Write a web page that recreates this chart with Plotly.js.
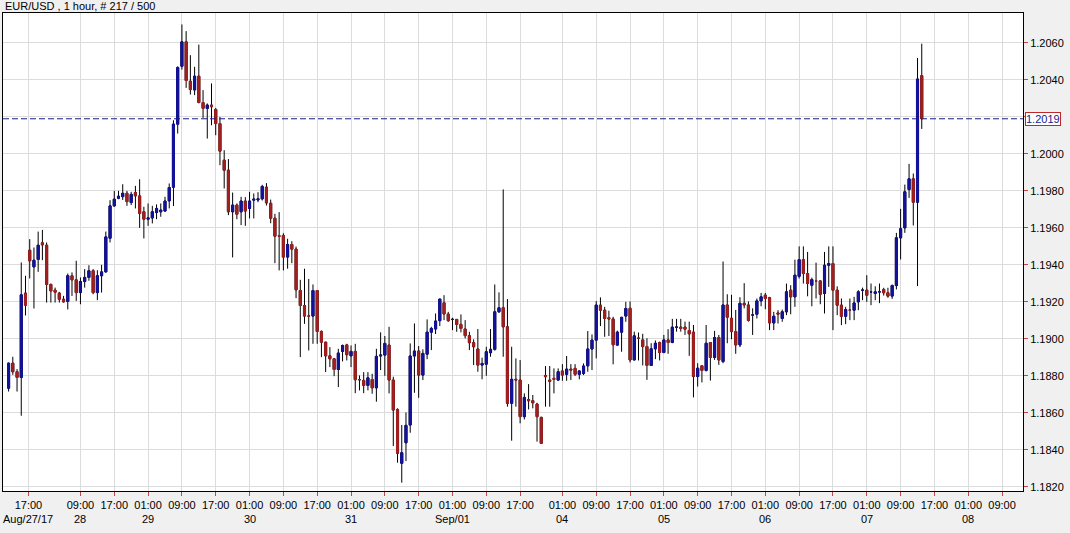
<!DOCTYPE html>
<html><head><meta charset="utf-8">
<script src="https://cdn.plot.ly/plotly-3.0.1.min.js"></script>
<style>html,body{margin:0;padding:0;background:#f0f0f0;}#chart{width:1070px;height:533px;}</style>
</head><body><div id="chart"></div>
<script>
const symbolTitle = "EUR/USD , 1 hour, # 217 / 500";
const lastPrice = 1.2019;
const lastPriceText = "1.2019";

const opens = [
1.18733,1.18868,1.18822,1.18791,1.19247,1.19479,1.19389,1.19429,1.19519,1.19506,
1.19294,1.19263,1.19247,1.19214,1.19202,1.19341,1.19319,1.19250,1.19310,1.19332,
1.19368,1.19250,1.19341,1.19362,1.19544,1.19719,1.19760,1.19769,1.19787,1.19737,
1.19791,1.19773,1.19687,1.19647,1.19654,1.19683,1.19687,1.19691,1.19746,1.19820,
1.20161,1.20474,1.20606,1.20393,1.20346,1.20420,1.20278,1.20246,1.20264,1.20240,
1.20164,1.19966,1.19912,1.19687,1.19723,1.19687,1.19745,1.19705,1.19750,1.19751,
1.19757,1.19820,1.19733,1.19652,1.19557,1.19559,1.19442,1.19510,1.19485,1.19261,
1.19180,1.19123,1.19123,1.19261,1.19040,1.18982,1.18908,1.18892,1.18834,1.18932,
1.18967,1.18908,1.18932,1.18779,1.18775,1.18748,1.18780,1.18735,1.18907,1.18912,
1.18966,1.18777,1.18618,1.18327,1.18438,1.18534,1.18907,1.18934,1.18804,1.18917,
1.19036,1.19053,1.19098,1.19195,1.19134,1.19105,1.19105,1.19078,1.19053,1.19017,
1.18979,1.18945,1.18858,1.18863,1.18925,1.18943,1.19146,1.19168,1.19065,1.18651,
1.18781,1.18777,1.18579,1.18672,1.18665,1.18647,1.18575,1.18802,1.18777,1.18786,
1.18777,1.18826,1.18808,1.18836,1.18840,1.18808,1.18813,1.18854,1.18945,1.18993,
1.19182,1.19155,1.19114,1.19107,1.18966,1.19036,1.19123,1.19165,1.18886,1.19003,
1.18994,1.18958,1.18856,1.18946,1.18980,1.18926,1.18994,1.18980,1.19063,1.19063,
1.19063,1.19045,1.19036,1.18796,1.18854,1.18829,1.18980,1.18899,1.19007,1.18877,
1.19183,1.19111,1.19039,1.18967,1.19192,1.19183,1.19129,1.19133,1.19205,1.19236,
1.19223,1.19086,1.19140,1.19110,1.19146,1.19263,1.19227,1.19338,1.19428,1.19353,
1.19290,1.19313,1.19313,1.19245,1.19398,1.19407,1.19263,1.19182,1.19122,1.19155,
1.19155,1.19200,1.19263,1.19263,1.19254,1.19245,1.19254,1.19267,1.19249,1.19231,
1.19288,1.19546,1.19600,1.19807,1.19865,1.19739,1.20423];
const highs = [
1.18872,1.18903,1.18836,1.19413,1.19341,1.19539,1.19494,1.19580,1.19589,1.19521,
1.19299,1.19277,1.19254,1.19232,1.19353,1.19359,1.19422,1.19332,1.19377,1.19398,
1.19377,1.19371,1.19400,1.19580,1.19750,1.19800,1.19800,1.19836,1.19800,1.19795,
1.19827,1.19863,1.19714,1.19732,1.19719,1.19727,1.19732,1.19768,1.19840,1.20182,
1.20474,1.20700,1.20664,1.20534,1.20471,1.20591,1.20345,1.20273,1.20381,1.20249,
1.20200,1.20020,1.19972,1.19791,1.19732,1.19768,1.19766,1.19795,1.19786,1.19793,
1.19833,1.19842,1.19753,1.19676,1.19685,1.19571,1.19541,1.19528,1.19499,1.19319,
1.19379,1.19324,1.19294,1.19261,1.19045,1.18982,1.18955,1.18897,1.18946,1.18969,
1.18973,1.18964,1.18973,1.18802,1.18820,1.18820,1.18811,1.18946,1.19035,1.19015,
1.19065,1.18795,1.18624,1.18534,1.18602,1.18975,1.19083,1.18961,1.18943,1.19105,
1.19065,1.19137,1.19215,1.19236,1.19146,1.19114,1.19105,1.19132,1.19101,1.19038,
1.18997,1.19053,1.18898,1.18957,1.19053,1.19294,1.19251,1.19808,1.19215,1.18957,
1.18894,1.18885,1.18705,1.18755,1.18696,1.18654,1.18579,1.18853,1.18853,1.18840,
1.18840,1.18863,1.18907,1.18863,1.18863,1.18831,1.18867,1.19042,1.19024,1.19204,
1.19224,1.19173,1.19152,1.19119,1.19044,1.19119,1.19200,1.19202,1.19039,1.19034,
1.19027,1.19003,1.18976,1.18991,1.18985,1.19021,1.19052,1.19108,1.19108,1.19108,
1.19093,1.19093,1.19075,1.18868,1.18854,1.19075,1.18980,1.19043,1.19021,1.19418,
1.19241,1.19238,1.19156,1.19225,1.19301,1.19202,1.19165,1.19218,1.19248,1.19248,
1.19227,1.19146,1.19155,1.19158,1.19299,1.19290,1.19428,1.19500,1.19500,1.19470,
1.19331,1.19412,1.19317,1.19470,1.19500,1.19500,1.19284,1.19218,1.19173,1.19218,
1.19227,1.19263,1.19277,1.19344,1.19299,1.19284,1.19299,1.19276,1.19276,1.19294,
1.19573,1.19703,1.19834,1.19946,1.19894,1.20519,1.20596];
const lows = [
1.18715,1.18805,1.18715,1.18584,1.19126,1.19326,1.19164,1.19362,1.19425,1.19196,
1.19196,1.19196,1.19196,1.19196,1.19159,1.19232,1.19205,1.19187,1.19277,1.19314,
1.19241,1.19209,1.19250,1.19359,1.19521,1.19714,1.19755,1.19751,1.19719,1.19723,
1.19705,1.19600,1.19543,1.19611,1.19624,1.19647,1.19660,1.19687,1.19705,1.19718,
1.20110,1.20456,1.20357,1.20321,1.20318,1.20273,1.20195,1.20083,1.20155,1.20101,
1.19939,1.19813,1.19669,1.19440,1.19647,1.19615,1.19611,1.19651,1.19651,1.19739,
1.19748,1.19721,1.19625,1.19409,1.19370,1.19370,1.19379,1.19409,1.19220,1.18901,
1.19081,1.18937,1.18973,1.18973,1.18901,1.18820,1.18847,1.18798,1.18739,1.18878,
1.18883,1.18847,1.18706,1.18721,1.18706,1.18721,1.18703,1.18660,1.18831,1.18800,
1.18705,1.18420,1.18330,1.18222,1.18339,1.18492,1.18708,1.18681,1.18777,1.18890,
1.18939,1.19026,1.19069,1.19101,1.19092,1.19047,1.19038,1.19035,1.19002,1.18939,
1.18858,1.18822,1.18781,1.18800,1.18903,1.18936,1.19141,1.18903,1.18633,1.18449,
1.18633,1.18543,1.18564,1.18618,1.18624,1.18444,1.18431,1.18633,1.18633,1.18705,
1.18773,1.18773,1.18773,1.18777,1.18799,1.18781,1.18804,1.18822,1.18831,1.18894,
1.19069,1.19011,1.19015,1.18862,1.18963,1.18930,1.19092,1.18872,1.18883,1.18883,
1.18856,1.18778,1.18854,1.18890,1.18883,1.18922,1.18919,1.18976,1.19039,1.19039,
1.19021,1.18908,1.18683,1.18742,1.18764,1.18823,1.18774,1.18886,1.18859,1.18868,
1.18976,1.18998,1.18919,1.18955,1.19165,1.19093,1.19021,1.19110,1.19176,1.19160,
1.19047,1.19047,1.19083,1.19092,1.19128,1.19133,1.19173,1.19326,1.19299,1.19230,
1.19176,1.19218,1.19187,1.19137,1.19281,1.19047,1.19128,1.19074,1.19079,1.19101,
1.19101,1.19155,1.19209,1.19200,1.19182,1.19209,1.19193,1.19234,1.19222,1.19216,
1.19267,1.19429,1.19573,1.19762,1.19613,1.19285,1.20135];
const closes = [
1.18868,1.18822,1.18791,1.19238,1.19182,1.19422,1.19425,1.19506,1.19508,1.19294,
1.19259,1.19252,1.19214,1.19200,1.19341,1.19319,1.19250,1.19310,1.19332,1.19368,
1.19250,1.19341,1.19362,1.19551,1.19719,1.19755,1.19771,1.19787,1.19742,1.19781,
1.19773,1.19678,1.19647,1.19654,1.19687,1.19705,1.19696,1.19745,1.19818,1.20161,
1.20467,1.20606,1.20397,1.20348,1.20420,1.20278,1.20246,1.20264,1.20255,1.20164,
1.20015,1.19912,1.19687,1.19723,1.19674,1.19745,1.19691,1.19745,1.19755,1.19757,
1.19824,1.19735,1.19652,1.19555,1.19555,1.19442,1.19510,1.19485,1.19265,1.19180,
1.19123,1.19123,1.19261,1.19040,1.18982,1.18908,1.18892,1.18834,1.18923,1.18964,
1.18914,1.18932,1.18779,1.18779,1.18748,1.18789,1.18735,1.18905,1.18912,1.18975,
1.18777,1.18615,1.18381,1.18384,1.18532,1.18907,1.18934,1.18804,1.18921,1.19036,
1.19056,1.19096,1.19215,1.19134,1.19098,1.19105,1.19078,1.19056,1.19017,1.18979,
1.18957,1.18858,1.18867,1.18930,1.18943,1.19146,1.19168,1.19065,1.18651,1.18781,
1.18777,1.18579,1.18683,1.18665,1.18654,1.18579,1.18435,1.18795,1.18770,1.18781,
1.18822,1.18804,1.18836,1.18831,1.18808,1.18826,1.18853,1.18945,1.18993,1.19182,
1.19155,1.19110,1.19108,1.18968,1.19036,1.19116,1.19164,1.18886,1.19016,1.19003,
1.18958,1.18856,1.18946,1.18976,1.18926,1.18994,1.18980,1.19063,1.19063,1.19056,
1.19052,1.19027,1.18796,1.18841,1.18829,1.18976,1.18899,1.19007,1.18886,1.19183,
1.19117,1.19039,1.18967,1.19192,1.19183,1.19099,1.19129,1.19205,1.19227,1.19218,
1.19086,1.19122,1.19133,1.19146,1.19254,1.19227,1.19344,1.19428,1.19353,1.19299,
1.19320,1.19313,1.19241,1.19398,1.19407,1.19263,1.19182,1.19122,1.19158,1.19155,
1.19194,1.19254,1.19263,1.19236,1.19254,1.19254,1.19254,1.19249,1.19231,1.19288,
1.19546,1.19595,1.19795,1.19865,1.19739,1.20405,1.20190];

const timeTickIdx = [4.7,17,25,33,41,49,57,65,73,81,89,97,105,113,121,131,139,147,155,163,171,179,187,195,203,211,219,227,235];
const timeTickText = ["17:00","09:00","17:00","01:00","09:00","17:00","01:00","09:00","17:00","01:00","09:00","17:00","01:00","09:00","17:00","01:00","09:00","17:00","01:00","09:00","17:00","01:00","09:00","17:00","01:00","09:00","17:00","01:00","09:00"];
const dateTickIdx = [4.7,17,33,57,81,105,131,155,179,203,227];
const dateTickText = ["Aug/27/17","28","29","30","31","Sep/01","04","05","06","07","08"];
const priceTickVals = [1.182,1.184,1.186,1.188,1.190,1.192,1.194,1.196,1.198,1.200,1.202,1.204,1.206];
const priceTickText = ["1.1820","1.1840","1.1860","1.1880","1.1900","1.1920","1.1940","1.1960","1.1980","1.2000","","1.2040","1.2060"];

const BLUE = '#12129c', RED = '#a31f1f', WICK = '#000000';
const idx = opens.map((_, i) => i);
const bodyHigh = opens.map((o, i) => Math.max(o, closes[i]));
const bodyLow = opens.map((o, i) => Math.min(o, closes[i]));

const wickTrace = {
  type: 'candlestick', x: idx, open: opens, high: highs, low: lows, close: closes,
  increasing: {line: {color: WICK, width: 1}, fillcolor: WICK},
  decreasing: {line: {color: WICK, width: 1}, fillcolor: WICK},
  whiskerwidth: 0, hoverinfo: 'skip', showlegend: false
};
const bodyTrace = {
  type: 'candlestick', x: idx, open: opens, high: bodyHigh, low: bodyLow, close: closes,
  increasing: {line: {color: BLUE, width: 1}, fillcolor: BLUE},
  decreasing: {line: {color: RED, width: 1}, fillcolor: RED},
  whiskerwidth: 0, hoverinfo: 'skip', showlegend: false
};

const FONT = 'Liberation Sans, Arial, sans-serif';
const annotations = [{
  xref: 'paper', yref: 'paper', x: 0, y: 1, xanchor: 'left', yanchor: 'bottom',
  text: symbolTitle, showarrow: false, font: {family: FONT, size: 11, color: '#000'}, xshift: 0, yshift: -1
}, {
  xref: 'paper', yref: 'y', x: 1, y: lastPrice, xanchor: 'left', yanchor: 'middle', xshift: 2,
  text: lastPriceText, showarrow: false, bgcolor: '#ffffff', bordercolor: '#c02828', borderwidth: 1, borderpad: 0,
  font: {family: FONT, size: 11, color: '#1a1a8a'}
}];
dateTickIdx.forEach((d, i) => annotations.push({
  xref: 'x', yref: 'paper', x: d, y: 0, xanchor: 'center', yanchor: 'top', yshift: -20,
  text: dateTickText[i], showarrow: false, font: {family: FONT, size: 11, color: '#000'}
}));

const layout = {
  width: 1070, height: 533,
  margin: {l: 3, r: 47, t: 13, b: 42, pad: 0},
  paper_bgcolor: '#f0f0f0', plot_bgcolor: '#ffffff',
  font: {family: FONT, size: 11, color: '#000'},
  showlegend: false, boxgap: 0.3, boxgroupgap: 0.3,
  xaxis: {
    type: 'linear', range: [-1.32, 239.95], tickmode: 'array', tickvals: timeTickIdx, ticktext: timeTickText,
    ticks: 'outside', ticklen: 4, tickcolor: '#c04848', tickwidth: 1,
    showgrid: true, gridcolor: '#dcdcdc', gridwidth: 1,
    showline: true, linecolor: '#000', linewidth: 1, mirror: true, zeroline: false,
    rangeslider: {visible: false}, fixedrange: true, tickfont: {family: FONT, size: 11, color: '#000'}
  },
  yaxis: {
    side: 'right', range: [1.18177, 1.20762], tickmode: 'array', tickvals: priceTickVals, ticktext: priceTickText,
    ticks: 'outside', ticklen: 4, tickcolor: '#c04848', tickwidth: 1,
    showgrid: true, gridcolor: '#dcdcdc', gridwidth: 1,
    showline: true, linecolor: '#000', linewidth: 1, mirror: true, zeroline: false,
    fixedrange: true, tickfont: {family: FONT, size: 11, color: '#000'}
  },
  shapes: [{type: 'line', xref: 'paper', x0: 0, x1: 1, yref: 'y', y0: lastPrice, y1: lastPrice,
    line: {color: '#1a1a8a', width: 1, dash: '6px,3px'}}],
  annotations: annotations
};

Plotly.newPlot('chart', [wickTrace, bodyTrace], layout, {displayModeBar: false, staticPlot: true});
</script>
</body></html>
